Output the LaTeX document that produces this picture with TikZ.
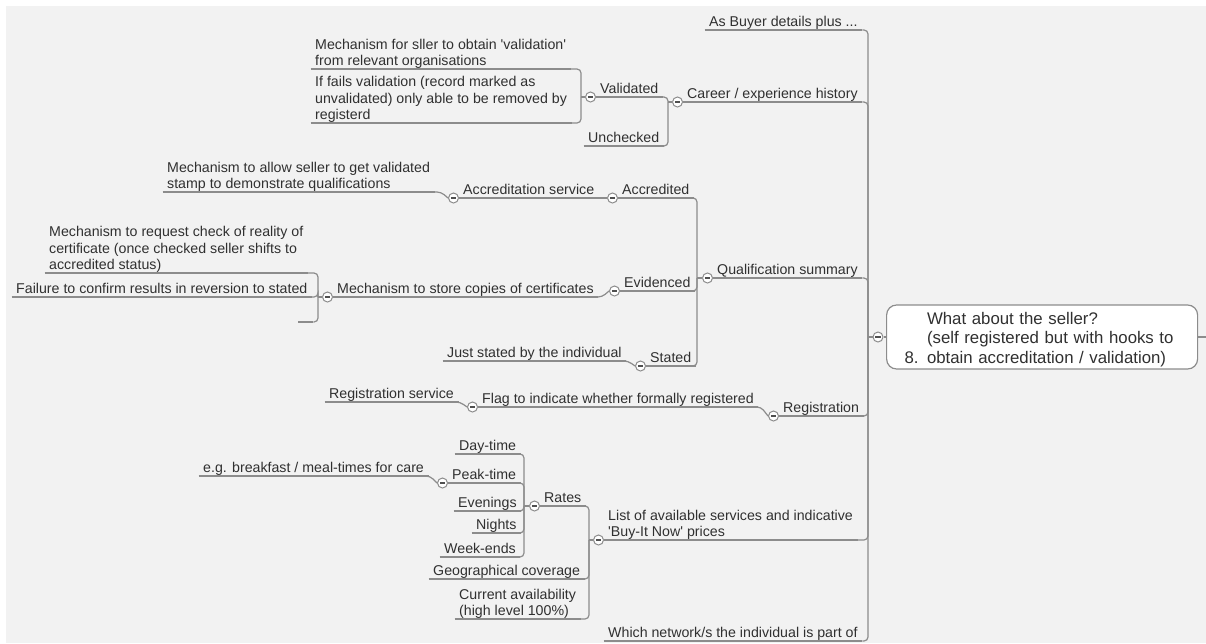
\documentclass[tikz,border=0pt]{standalone}
\usepackage{fontspec}
\setmainfont{Liberation Sans}
\definecolor{bg}{HTML}{F2F2F2}
\definecolor{ln}{HTML}{8C8C8C}
\definecolor{tx}{HTML}{303030}
\newcommand{\apos}{\textquotesingle}
\begin{document}
\begin{tikzpicture}[x=1pt,y=-1pt,
  txt/.style={anchor=south west, inner xsep=4.5pt, inner ysep=0pt, text depth=3pt,
    font=\fontsize{14.2}{16.5}\selectfont, text=tx, align=left},
  conn/.style={draw=ln, line width=1.2pt, rounded corners=4pt},
  coll/.style={circle, draw=ln, fill=white, line width=1pt, minimum size=10pt, inner sep=0pt,
    path picture={\draw[tx!85, line width=1.2pt]
      ([xshift=-2.6pt]path picture bounding box.center) -- ([xshift=2.6pt]path picture bounding box.center);}},
  rootbox/.style={draw=ln, fill=white, line width=1.2pt, rounded corners=10pt, minimum height=64pt,
    text width=275pt, inner xsep=18pt, inner ysep=0pt, align=left, font=\fontsize{16.8}{19.8}\selectfont, text=tx}]
\useasboundingbox (0,0) rectangle (1206,643);
\fill[white] (0,0) rectangle (1206,643);
\fill[bg] (6,6) rectangle (1206,643);

% root
\node[rootbox, anchor=west] (root) at (886,337) {\rule{0pt}{17.2pt}\hphantom{8. }What about the seller?\\\hphantom{8. }(self registered but with hooks to\\8. obtain accreditation / validation)};
\node[coll] (rootc) at (878,337) {};
\coordinate (rstub) at (1206,337);

% level 1
\node[txt] (buyer) at (704.5,30) {As Buyer details plus ...};
\node[txt] (car) at (682.5,102) {Career / experience history};
\node[txt] (qual) at (712.5,278) {Qualification summary};
\node[txt] (reg) at (778.5,416) {Registration};
\node[txt] (list) at (603.5,540) {List of available services and indicative\\\apos Buy-It Now\apos{} prices};
\node[txt] (net) at (603.5,641) {Which network/s the individual is part of};

% career branch
\node[txt] (val) at (595.5,97) {Validated};
\node[txt] (unch) at (583.5,146) {Unchecked};
\node[txt] (sller) at (310.5,69) {Mechanism for sller to obtain \apos validation\apos\\from relevant organisations};
\node[txt] (fails) at (310.5,123) {If fails validation (record marked as\\unvalidated) only able to be removed by\\registerd};

% qualification branch
\node[txt] (accd) at (617.5,198) {Accredited};
\node[txt] (evid) at (619.5,291) {Evidenced};
\node[txt] (stat) at (645.5,366) {Stated};
\node[txt] (accs) at (458.5,198) {Accreditation service};
\node[txt] (allow) at (162.5,192) {Mechanism to allow seller to get validated\\stamp to demonstrate qualifications};
\node[txt] (store) at (332.5,297) {Mechanism to store copies of certificates};
\node[txt] (req) at (44.5,273) {Mechanism to request check of reality of\\certificate (once checked seller shifts to\\accredited status)};
\node[txt] (fail) at (11.5,297) {Failure to confirm results in reversion to stated};
\node[txt, minimum width=15pt] (emp) at (298,322) {};
\node[txt] (just) at (442.5,361) {Just stated by the individual};

% registration branch
\node[txt] (flag) at (477.5,407) {Flag to indicate whether formally registered};
\node[txt] (regs) at (324.5,402) {Registration service};

% services branch
\node[txt] (rates) at (539.5,506) {Rates};
\node[txt] (geo) at (428.5,579) {Geographical coverage};
\node[txt] (avail) at (454.5,619) {Current availability\\(high level 100\%)};
\node[txt] (day) at (454.5,454) {Day-time};
\node[txt] (peak) at (447.5,483) {Peak-time};
\node[txt] (even) at (453.5,511) {Evenings};
\node[txt] (night) at (471.5,533) {Nights};
\node[txt] (week) at (439.5,557) {Week-ends};
\node[txt] (bfast) at (198.5,476) {e.g. breakfast / meal-times for care};

% collapse markers
\foreach \n in {car,val,qual,accd,accs,evid,store,stat,reg,flag,list,rates,peak}
  \node[coll] (\n c) at ([xshift=-5pt]\n.south west) {};

% junctions
\coordinate (rootj) at (868,337);
\coordinate (carj) at (668,102);
\coordinate (valj) at (581,97);
\coordinate (qualj) at (697,278);
\coordinate (storej) at (318,297);
\coordinate (listj) at (589,540);
\coordinate (ratej) at (524,506);

% underlines
\foreach \n in {buyer,car,qual,reg,list,net,val,unch,sller,fails,accd,evid,stat,accs,allow,store,req,fail,emp,just,flag,regs,rates,geo,avail,day,peak,even,night,week,bfast}
  \draw[conn] (\n.south west) -- (\n.south east);

% multi-child connectors
\foreach \n in {buyer,car,qual,reg,list,net} \draw[conn] (\n.south east) -| (rootj);
\draw[conn] (rootj) -- (rootc.west);
\draw[conn] (rootc.east) -- (root.west);
\draw[conn] (root.east) -- (rstub);
\foreach \n in {val,unch} \draw[conn] (\n.south east) -| (carj);
\draw[conn] (carj) -- (carc.west);
\foreach \n in {sller,fails} \draw[conn] (\n.south east) -| (valj);
\draw[conn] (valj) -- (valc.west);
\foreach \n in {accd,evid,stat} \draw[conn] (\n.south east) -| (qualj);
\draw[conn] (qualj) -- (qualc.west);
\foreach \n in {req,fail,emp} \draw[conn] (\n.south east) -| (storej);
\draw[conn] (storej) -- (storec.west);
\foreach \n in {rates,geo,avail} \draw[conn] (\n.south east) -| (listj);
\draw[conn] (listj) -- (listc.west);
\foreach \n in {day,peak,even,night,week} \draw[conn] (\n.south east) -| (ratej);
\draw[conn] (ratej) -- (ratesc.west);

% single-child connectors
\foreach \c/\p in {accs/accdc,allow/accsc,store/evidc,just/statc,flag/regc,regs/flagc,bfast/peakc}
  \draw[conn] (\c.south east) -- ([xshift=-7pt]\p.west |- \c.south east) -- (\p.west);
\end{tikzpicture}
\end{document}
